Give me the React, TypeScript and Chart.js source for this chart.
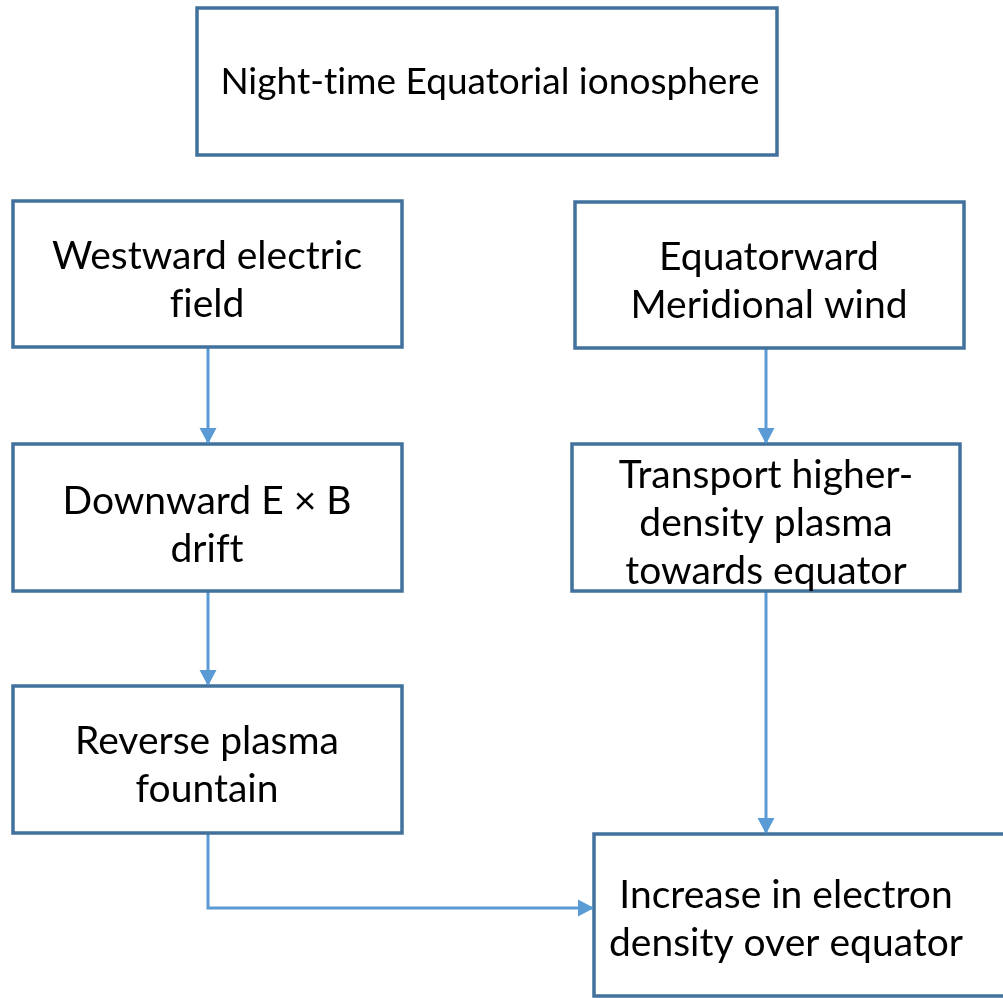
import React, { useEffect, useRef } from "react";
import { Chart, registerables } from "chart.js";

Chart.register(...registerables);

// ---- Flowchart content ----
const NODE_LABELS: string[][] = [
  ["Night-time Equatorial ionosphere"],
  ["Westward electric", "field"],
  ["Equatorward", "Meridional wind"],
  ["Downward E × B", "drift"],
  ["Transport higher-", "density plasma", "towards equator"],
  ["Reverse plasma", "fountain"],
  ["Increase in electron", "density over equator"],
];

// edges: [from, to]
const EDGES: number[][] = [
  [1, 3],
  [3, 5],
  [2, 4],
  [4, 6],
  [5, 6],
];

// ---- Layout (diagram coordinates, y downward) ----
const BOX_LEFT = [197, 13, 575, 13, 572, 13, 594];
const BOX_TOP = [8, 201, 202, 444, 444, 686, 834];
const BOX_RIGHT = [777, 402, 964, 402, 960, 402, 1015];
const BOX_BOTTOM = [155, 347, 348, 591, 591, 833, 996];
const TEXT_X = [490, 207, 769, 207, 766, 207, 786];
const TEXT_DY = [1, 6, 6, 8, 6, 6, 4];
const FONT_SIZE = [37, 39, 39, 39, 39, 39, 39];

// edge routes (polylines in diagram coordinates)
const EDGE_ROUTES: number[][][] = [
  [[208, 347], [208, 444]],
  [[208, 591], [208, 686]],
  [[766, 348], [766, 444]],
  [[766, 591], [766, 834]],
  [[208, 833], [208, 908], [594, 908]],
];

const W = 1003;
const H = 998;
const BOX_COLOR = "#41719C";
const ARROW_COLOR = "#5B9BD5";
const FONT_FAMILY = "Lato, 'Open Sans', sans-serif";
const LINE_H = 48;

export default function App() {
  const ref = useRef<HTMLCanvasElement | null>(null);

  useEffect(() => {
    if (!ref.current) return;

    const boxDatasets = NODE_LABELS.map((lbl, i) => ({
      label: lbl.join(" "),
      data: [
        { x: BOX_LEFT[i], y: BOX_TOP[i] },
        { x: BOX_RIGHT[i], y: BOX_TOP[i] },
        { x: BOX_RIGHT[i], y: BOX_BOTTOM[i] },
        { x: BOX_LEFT[i], y: BOX_BOTTOM[i] },
        { x: BOX_LEFT[i], y: BOX_TOP[i] },
      ],
      showLine: true,
      borderColor: BOX_COLOR,
      backgroundColor: "rgba(0,0,0,0)",
      borderWidth: 3.5,
      pointRadius: 0,
      tension: 0,
      borderJoinStyle: "miter" as const,
      borderCapStyle: "square" as const,
    }));

    const edgeDatasets = EDGES.map((e, k) => ({
      label: `edge ${e[0]}-${e[1]}`,
      data: EDGE_ROUTES[k].map((p) => ({ x: p[0], y: p[1] })),
      showLine: true,
      borderColor: ARROW_COLOR,
      backgroundColor: "rgba(0,0,0,0)",
      borderWidth: 3,
      pointRadius: 0,
      tension: 0,
      borderJoinStyle: "miter" as const,
    }));

    const overlay = {
      id: "flowOverlay",
      afterDatasetsDraw(chart: any) {
        const { ctx, scales } = chart;
        const xs = scales.x;
        const ys = scales.y;
        ctx.save();
        // arrowheads
        ctx.fillStyle = ARROW_COLOR;
        EDGE_ROUTES.forEach((route) => {
          const a = route[route.length - 2];
          const b = route[route.length - 1];
          const ax = xs.getPixelForValue(a[0]);
          const ay = ys.getPixelForValue(a[1]);
          const bx = xs.getPixelForValue(b[0]);
          const by = ys.getPixelForValue(b[1]);
          const ang = Math.atan2(by - ay, bx - ax);
          const len = 16;
          const half = 8.5;
          const baseX = bx - len * Math.cos(ang);
          const baseY = by - len * Math.sin(ang);
          ctx.beginPath();
          ctx.moveTo(bx, by);
          ctx.lineTo(baseX + half * Math.sin(ang), baseY - half * Math.cos(ang));
          ctx.lineTo(baseX - half * Math.sin(ang), baseY + half * Math.cos(ang));
          ctx.closePath();
          ctx.fill();
        });
        // labels
        ctx.fillStyle = "#000000";
        ctx.textAlign = "center";
        ctx.textBaseline = "middle";
        try {
          (ctx as any).letterSpacing = "0.01px";
        } catch (e) {
          /* ignore */
        }
        NODE_LABELS.forEach((lines, i) => {
          ctx.font = `${FONT_SIZE[i]}px ${FONT_FAMILY}`;
          const cy = (BOX_TOP[i] + BOX_BOTTOM[i]) / 2 + TEXT_DY[i];
          const n = lines.length;
          lines.forEach((t, j) => {
            const yv = cy + (j - (n - 1) / 2) * LINE_H;
            ctx.fillText(t, xs.getPixelForValue(TEXT_X[i]), ys.getPixelForValue(yv));
          });
        });
        ctx.restore();
      },
    };

    const chart = new Chart(ref.current, {
      type: "scatter",
      data: { datasets: [...boxDatasets, ...edgeDatasets] as any },
      options: {
        animation: false,
        responsive: false,
        maintainAspectRatio: false,
        layout: { padding: 0 },
        plugins: {
          legend: { display: false },
          tooltip: { enabled: false },
        },
        scales: {
          x: { type: "linear", min: 0, max: W, display: false },
          y: { type: "linear", min: 0, max: H, reverse: true, display: false },
        },
      },
      plugins: [overlay],
    });

    return () => chart.destroy();
  }, []);

  return (
    <div style={{ position: "absolute", left: 0, top: 0, width: W, height: H, background: "#ffffff" }}>
      <canvas ref={ref} width={W} height={H} style={{ display: "block", width: W, height: H }} />
    </div>
  );
}
